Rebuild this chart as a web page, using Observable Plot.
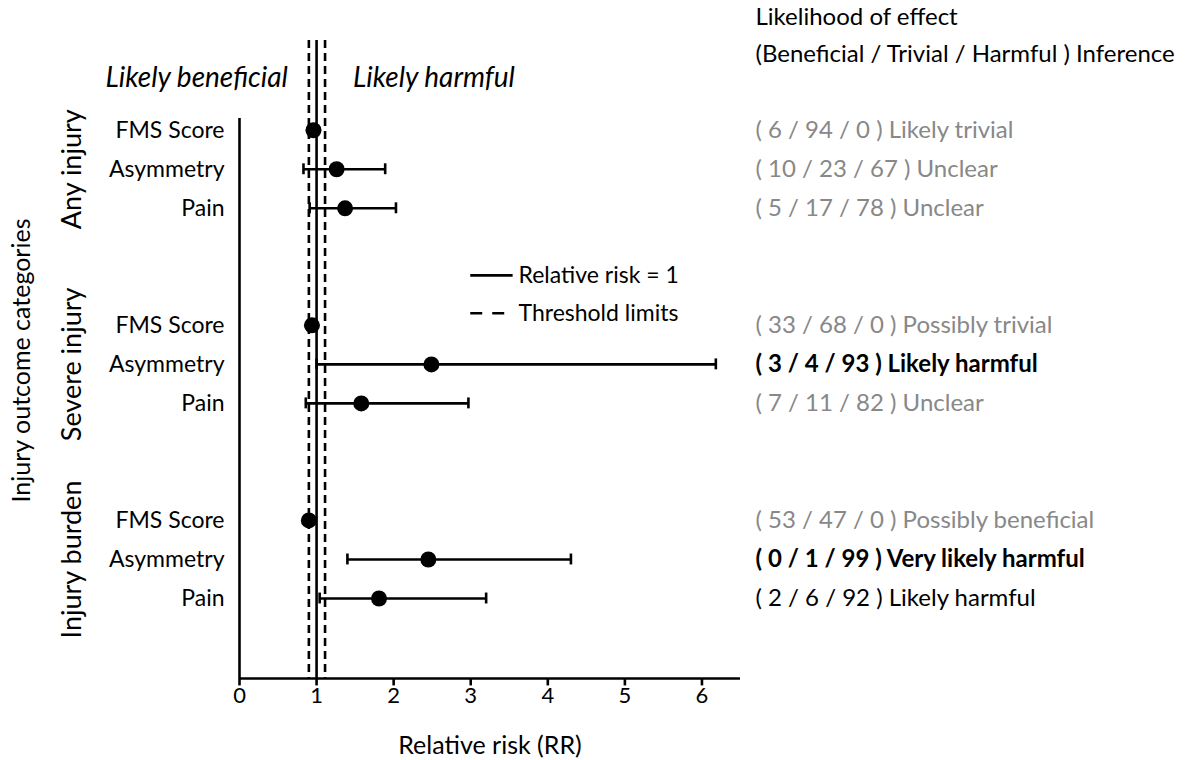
<!DOCTYPE html>
<html>
<head>
<meta charset="utf-8">
<script src="https://cdn.jsdelivr.net/npm/d3@7"></script>
<script src="https://cdn.jsdelivr.net/npm/@observablehq/plot@0.6"></script>
<style>
  html, body { margin: 0; padding: 0; background: #fff; }
  #chart { width: 1192px; height: 760px; }
</style>
</head>
<body>
<div id="chart"></div>
<script>
// ---- data ----
const groups = ["Any injury", "Severe injury", "Injury burden"];
const measures = ["FMS Score", "Asymmetry", "Pain"];
const rr = [0.96, 1.26, 1.37, 0.94, 2.49, 1.58, 0.90, 2.45, 1.81];
const lo = [0.92, 0.83, 0.91, 0.90, 1.00, 0.86, 0.87, 1.40, 1.04];
const hi = [0.99, 1.89, 2.03, 0.97, 6.18, 2.97, 0.93, 4.30, 3.20];
const beneficial = [6, 10, 5, 33, 3, 7, 53, 0, 2];
const trivial = [94, 23, 17, 68, 4, 11, 47, 1, 6];
const harmful = [0, 67, 78, 0, 93, 82, 0, 99, 92];
const inference = ["Likely trivial", "Unclear", "Unclear", "Possibly trivial", "Likely harmful", "Unclear", "Possibly beneficial", "Very likely harmful", "Likely harmful"];
const emphasis = ["grey", "grey", "grey", "grey", "bold", "grey", "grey", "bold", "black"];
const xTicks = [0, 1, 2, 3, 4, 5, 6];
const thresholds = [0.9, 1.11];
const legendLabels = ["Relative risk = 1", "Threshold limits"];
const headerLines = ["Likelihood of effect", "(Beneficial / Trivial / Harmful ) Inference"];
const zoneLabels = ["Likely beneficial", "Likely harmful"];

// ---- table ----
const rows = rr.map((v, i) => {
  const g = Math.floor(i / 3), m = i % 3;
  return {
    group: groups[g], measure: measures[m], slot: g * 5 + m,
    rr: v, lo: lo[i], hi: hi[i],
    label: `( ${beneficial[i]} / ${trivial[i]} / ${harmful[i]} ) ${inference[i]}`,
    emph: emphasis[i]
  };
});
const groupRows = groups.map((g, i) => ({group: g, slot: i * 5 + 1}));

const yTop = -2.3, yBottom = 14.05, xMax = 6.5;
const font = "Lato, 'Open Sans', sans-serif";
const sw = 2.6;

const chart = Plot.plot({
  width: 1192,
  height: 760,
  marginLeft: 239,
  marginRight: 452,
  x: {domain: [0, xMax], range: [239, 740], axis: null},
  y: {domain: [yTop, yBottom], range: [40, 678], axis: null},
  style: {fontFamily: font, fontSize: "22px", color: "#000", background: "#fff"},
  marks: [
    // reference lines
    Plot.ruleX([1], {y1: yTop, y2: yBottom, stroke: "#000", strokeWidth: sw}),
    Plot.ruleX(thresholds, {y1: yTop, y2: yBottom, stroke: "#000", strokeWidth: sw, strokeDasharray: "8,5"}),
    // axis lines
    Plot.ruleX([0], {y1: -0.3, y2: yBottom, stroke: "#000", strokeWidth: sw}),
    Plot.ruleY([yBottom], {x1: 0, x2: xMax, stroke: "#000", strokeWidth: sw}),
    Plot.ruleX(xTicks, {x: d => d, y1: yBottom, y2: yBottom + 0.19, stroke: "#000", strokeWidth: sw}),
    Plot.text(xTicks, {x: d => d, y: yBottom, dy: 17, text: d => String(d), fontSize: 22}),
    Plot.text(["Relative risk (RR)"], {x: 3.25, y: yBottom, dy: 67, text: d => d, fontSize: 25}),
    // error bars
    Plot.ruleY(rows, {y: "slot", x1: "lo", x2: "hi", stroke: "#000", strokeWidth: sw}),
    Plot.ruleX(rows, {x: "lo", y1: d => d.slot - 0.14, y2: d => d.slot + 0.14, stroke: "#000", strokeWidth: sw}),
    Plot.ruleX(rows, {x: "hi", y1: d => d.slot - 0.14, y2: d => d.slot + 0.14, stroke: "#000", strokeWidth: sw}),
    Plot.dot(rows, {x: "rr", y: "slot", r: 8, fill: "#000", stroke: "none"}),
    // row labels
    Plot.text(rows, {y: "slot", text: "measure", frameAnchor: "left", dx: -15, textAnchor: "end", fontSize: 23}),
    Plot.text(groupRows, {x: -2.17, y: "slot", text: "group", rotate: -90, fontSize: 27}),
    Plot.text(["Injury outcome categories"], {x: -2.82, y: 5.9, text: d => d, rotate: -90, fontSize: 25}),
    // zone labels
    Plot.text([zoneLabels[0]], {x: 0.9, y: -1.33, dx: -21, text: d => d, textAnchor: "end", fontStyle: "italic", fontSize: 28}),
    Plot.text([zoneLabels[1]], {x: 1.11, y: -1.33, dx: 28, text: d => d, textAnchor: "start", fontStyle: "italic", fontSize: 28}),
    // legend
    Plot.ruleY([3.72], {x1: 3.0, x2: 3.55, stroke: "#000", strokeWidth: sw}),
    Plot.ruleY([4.69], {x1: 3.0, x2: 3.5, stroke: "#000", strokeWidth: sw, strokeDasharray: "12,10"}),
    Plot.text(legendLabels, {x: 3.62, y: (d, i) => [3.72, 4.69][i], text: d => d, textAnchor: "start", fontSize: 23}),
    // right-hand annotations
    Plot.text(headerLines, {y: (d, i) => [-2.9, -1.95][i], text: d => d, frameAnchor: "right", dx: 15, textAnchor: "start", fontSize: 24}),
    Plot.text(rows.filter(d => d.emph !== "bold"), {
      y: "slot", text: "label", frameAnchor: "right", dx: 15, textAnchor: "start", fontSize: 24,
      fill: d => d.emph === "grey" ? "#888888" : "#000"
    }),
    Plot.text(rows.filter(d => d.emph === "bold"), {
      y: "slot", text: "label", frameAnchor: "right", dx: 15, textAnchor: "start", fontSize: 24,
      fill: "#000", fontWeight: "bold"
    })
  ]
});

document.getElementById("chart").appendChild(chart);
</script>
</body>
</html>
